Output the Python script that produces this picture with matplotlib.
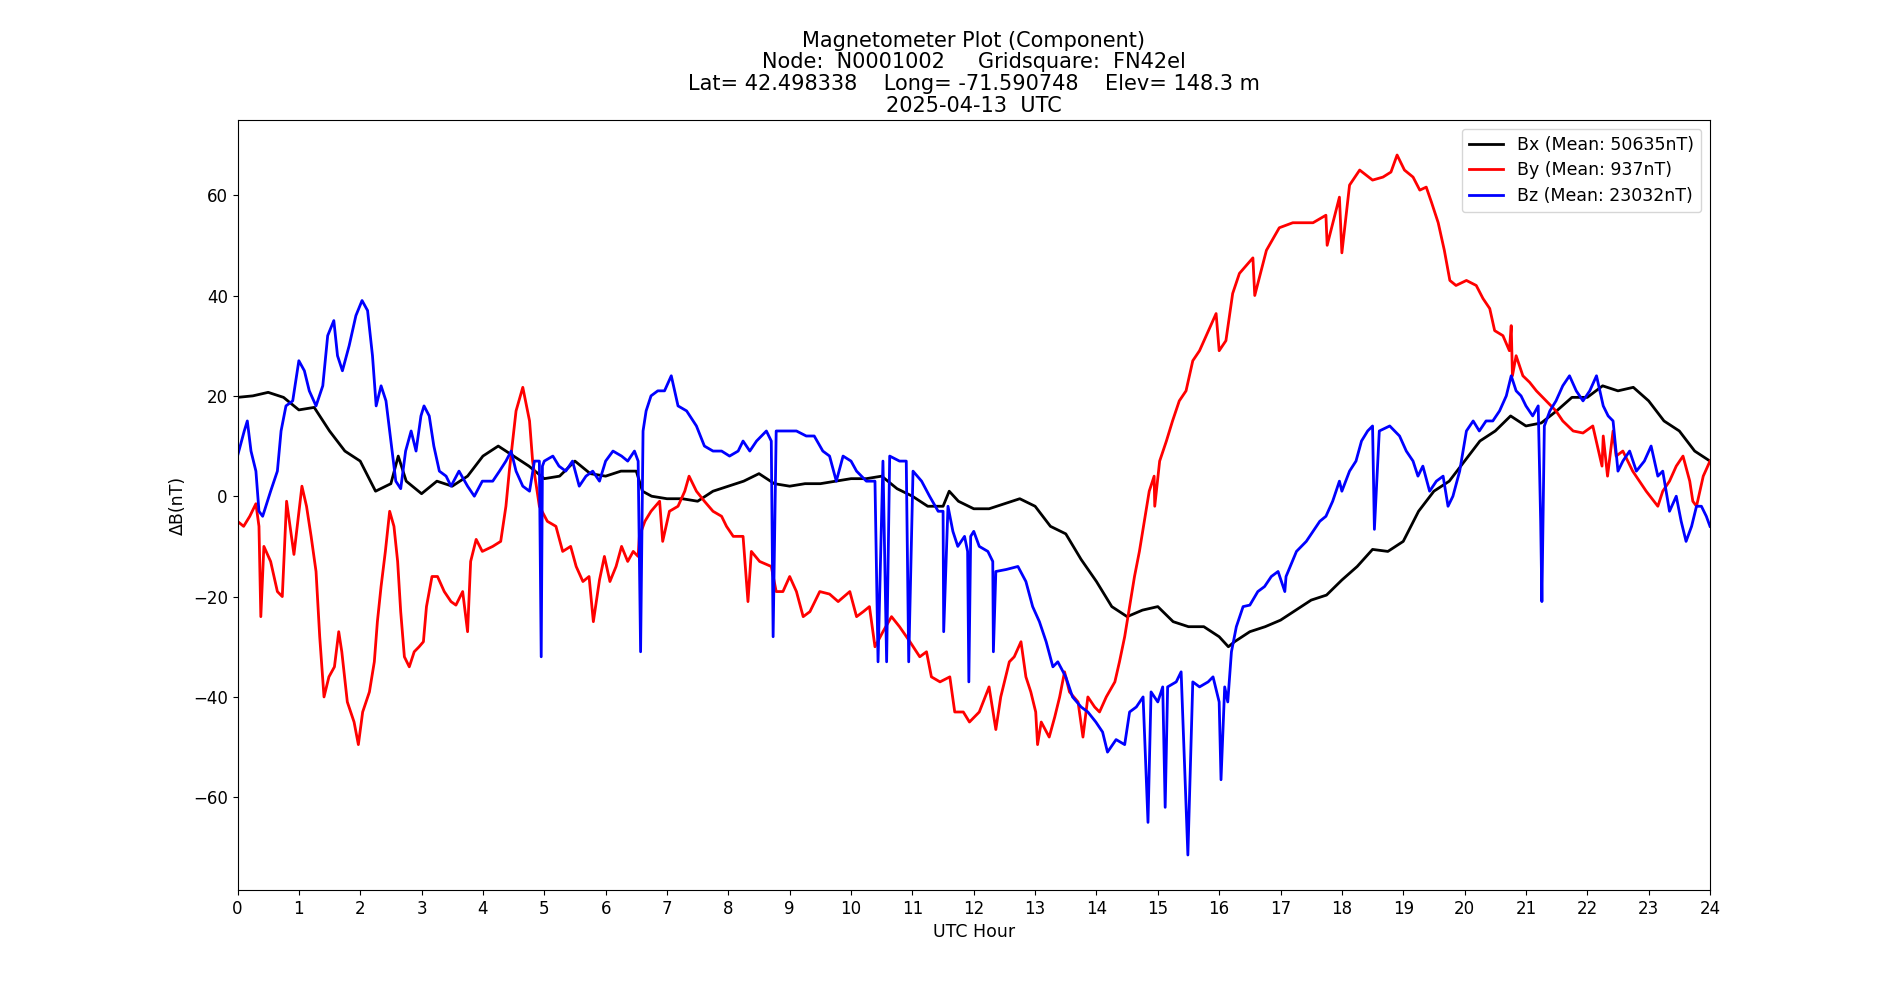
import numpy as np
import matplotlib
matplotlib.use("Agg")
import matplotlib.pyplot as plt

# Значения (час UTC, отклонение в нТл)
bx_hours = [0.0, 0.25, 0.5, 0.75, 1.0, 1.25, 1.5, 1.75, 2.0, 2.25, 2.5, 2.62, 2.75, 3.0,
            3.25, 3.5, 3.75, 4.0, 4.25, 4.5, 4.75, 5.0, 5.25, 5.5, 5.75, 6.0, 6.25,
            6.5, 6.6, 6.75, 7.0, 7.25, 7.5, 7.75, 8.0, 8.25, 8.5, 8.75, 9.0, 9.25,
            9.5, 9.75, 10.0, 10.25, 10.5, 10.75, 11.0, 11.25, 11.5, 11.6, 11.75,
            12.0, 12.25, 12.5, 12.75, 13.0, 13.25, 13.5, 13.75, 14.0, 14.25, 14.5,
            14.75, 15.0, 15.25, 15.5, 15.75, 16.0, 16.15, 16.25, 16.5, 16.75, 17.0,
            17.25, 17.5, 17.75, 18.0, 18.25, 18.5, 18.75, 19.0, 19.25, 19.5, 19.75,
            20.0, 20.25, 20.5, 20.75, 21.0, 21.25, 21.5, 21.75, 22.0, 22.25, 22.5,
            22.75, 23.0, 23.25, 23.5, 23.75, 24.0]
bx_values = [19.7, 20.0, 20.7, 19.7, 17.2, 17.7, 13.0, 9.0, 7.0, 1.0, 2.5, 8.0, 3.0, 0.5,
             3.0, 2.0, 4.0, 8.0, 10.0, 8.0, 6.0, 3.5, 4.0, 7.0, 4.5, 4.0, 5.0,
             5.0, 1.0, 0.0, -0.5, -0.5, -1.0, 1.0, 2.0, 3.0, 4.5, 2.5, 2.0, 2.5,
             2.5, 3.0, 3.5, 3.5, 4.0, 1.5, 0.0, -2.0, -2.0, 1.0, -1.0,
             -2.5, -2.5, -1.5, -0.5, -2.0, -6.0, -7.5, -12.6, -17.0, -22.0, -24.0,
             -22.7, -22.0, -25.0, -26.0, -26.0, -28.0, -30.0, -29.0, -27.0, -26.0, -24.7,
             -22.7, -20.7, -19.7, -16.7, -14.0, -10.6, -11.0, -9.0, -3.0, 1.0, 3.0,
             7.0, 11.0, 13.0, 16.0, 14.0, 14.6, 17.0, 19.7, 19.7, 22.0, 21.0,
             21.7, 19.0, 15.0, 13.0, 9.0, 7.0]

by_hours = [0.0, 0.1, 0.2, 0.3, 0.35, 0.38, 0.43, 0.54, 0.65, 0.73, 0.8, 0.92, 1.05,
            1.125, 1.2, 1.28, 1.34, 1.41, 1.49, 1.58, 1.65, 1.7, 1.79, 1.9, 1.97,
            2.04, 2.15, 2.23, 2.28, 2.34, 2.41, 2.48, 2.55, 2.61, 2.66, 2.72, 2.8,
            2.88, 2.96, 3.03, 3.08, 3.17, 3.26, 3.37, 3.48, 3.56, 3.67, 3.75, 3.8,
            3.89, 3.99, 4.16, 4.29, 4.375, 4.43, 4.54, 4.65, 4.76, 4.81, 4.92, 5.05,
            5.19, 5.3, 5.43, 5.52, 5.63, 5.73, 5.8, 5.9, 5.98,
            6.07, 6.17, 6.26, 6.36, 6.45, 6.53, 6.55, 6.64, 6.74, 6.88, 6.93, 7.04,
            7.18, 7.29, 7.36, 7.48, 7.61, 7.75, 7.89, 7.97, 8.08, 8.24, 8.32, 8.375,
            8.51, 8.7, 8.78, 8.89, 9.0, 9.11, 9.22, 9.33, 9.49, 9.65, 9.79, 9.98,
            10.09, 10.2, 10.3, 10.39, 10.52, 10.66, 10.79, 10.96, 11.12, 11.23,
            11.31, 11.45, 11.61, 11.69, 11.83, 11.93,
            12.09, 12.25, 12.36, 12.44, 12.58, 12.66, 12.77, 12.85, 12.93, 13.01,
            13.04, 13.1, 13.23, 13.32, 13.4, 13.48, 13.56, 13.7, 13.78, 13.86, 13.97,
            14.05, 14.16, 14.3, 14.375, 14.46, 14.54, 14.62, 14.7, 14.78, 14.86, 14.94,
            14.95, 15.03, 15.14, 15.24, 15.35, 15.46, 15.57, 15.68, 15.79, 15.95, 16.0,
            16.11, 16.22, 16.33, 16.55, 16.58, 16.77, 16.98, 17.2, 17.53, 17.74,
            17.76, 17.96, 18.0, 18.125, 18.29, 18.5, 18.67, 18.8, 18.9, 19.02, 19.16,
            19.27, 19.375, 19.46, 19.57, 19.67, 19.76, 19.86, 20.03, 20.19, 20.3,
            20.41, 20.49, 20.625, 20.73, 20.76, 20.78, 20.84, 20.95, 21.06, 21.17,
            21.33, 21.49, 21.6, 21.77, 21.93, 22.09, 22.24, 22.26, 22.33, 22.42,
            22.47, 22.58, 22.74, 22.96, 23.15, 23.23, 23.34, 23.45, 23.56, 23.67,
            23.72, 23.78, 23.89, 24.0]
by_values = [-5.0, -6.0, -4.0, -1.5, -6.0, -24.0, -10.0, -13.0, -19.0, -20.0, -1.0, -11.6, 2.0,
             -2.0, -8.0, -15.0, -28.0, -40.0, -36.0, -34.0, -27.0, -31.0, -41.0, -45.0, -49.5,
             -43.0, -39.0, -33.0, -25.0, -18.0, -11.0, -3.0, -6.0, -13.0, -23.0, -32.0, -34.0,
             -31.0, -30.0, -29.0, -22.0, -16.0, -16.0, -19.0, -21.0, -21.7, -19.0, -27.0, -13.0,
             -8.6, -11.0, -10.0, -9.0, -2.0, 5.0, 17.0, 21.7, 15.0, 7.0, -2.0, -5.0,
             -6.0, -11.0, -10.0, -14.0, -17.0, -16.0, -25.0, -16.7, -12.0,
             -17.0, -14.0, -10.0, -13.0, -11.0, -12.0, -8.0, -5.0, -3.0, -1.0, -9.0, -3.0,
             -2.0, 1.0, 4.0, 1.0, -1.0, -3.0, -4.0, -6.0, -8.0, -8.0, -21.0, -11.0,
             -13.0, -14.0, -19.0, -19.0, -16.0, -19.0, -24.0, -23.0, -19.0, -19.5, -21.0, -19.0,
             -24.0, -23.0, -22.0, -30.0, -27.0, -24.0, -26.0, -29.0, -32.0, -31.0,
             -36.0, -37.0, -36.0, -43.0, -43.0, -45.0,
             -43.0, -38.0, -46.5, -40.0, -33.0, -32.0, -29.0, -36.0, -39.0, -43.0,
             -49.5, -45.0, -48.0, -44.0, -40.0, -35.0, -39.0, -41.0, -48.0, -40.0, -42.0,
             -43.0, -40.0, -37.0, -33.0, -28.0, -22.0, -16.0, -11.0, -5.0, 1.0, 4.0,
             -2.0, 7.0, 11.0, 15.0, 19.0, 21.0, 27.0, 29.0, 32.0, 36.4, 29.0,
             31.0, 40.4, 44.4, 47.5, 40.0, 49.0, 53.5, 54.5, 54.5, 56.0,
             50.0, 59.6, 48.5, 62.0, 65.0, 63.0, 63.6, 64.6, 68.0, 65.0, 63.6,
             61.0, 61.6, 58.6, 54.5, 49.0, 43.0, 42.0, 43.0, 42.0, 39.4,
             37.4, 33.0, 32.0, 29.0, 34.0, 24.0, 28.0, 24.0, 22.7, 21.0,
             19.0, 17.0, 15.0, 13.0, 12.6, 14.0, 6.0, 12.0, 4.0, 13.0,
             8.0, 9.0, 5.0, 1.0, -2.0, 1.0, 3.0, 6.0, 8.0, 3.0,
             -1.0, -2.0, 4.0, 7.0]

bz_hours = [0.0, 0.11, 0.16, 0.22, 0.3, 0.35, 0.41, 0.54, 0.65, 0.71, 0.79, 0.9, 1.0,
            1.09, 1.17, 1.28, 1.39, 1.47, 1.57, 1.63, 1.71, 1.82, 1.93, 2.03, 2.12,
            2.2, 2.26, 2.34, 2.42, 2.5, 2.58, 2.66, 2.74, 2.83, 2.91, 2.99, 3.04,
            3.125, 3.2, 3.29, 3.4, 3.48, 3.61, 3.75, 3.86, 3.99, 4.16, 4.27, 4.375,
            4.46, 4.54, 4.65, 4.76, 4.84, 4.92, 4.95, 4.97, 5.0, 5.14, 5.24, 5.35,
            5.46, 5.57, 5.68, 5.79, 5.9, 6.0, 6.12, 6.26, 6.36, 6.47, 6.53, 6.57,
            6.61, 6.66, 6.74, 6.85, 6.96, 7.07, 7.18, 7.32, 7.48, 7.61, 7.75, 7.89,
            8.02, 8.16, 8.24, 8.35, 8.46, 8.62, 8.7, 8.73, 8.78, 8.95, 9.11, 9.27,
            9.4, 9.54, 9.65, 9.76, 9.87, 10.0, 10.09, 10.25, 10.39, 10.44, 10.52,
            10.58, 10.63, 10.79, 10.9, 10.94, 11.01, 11.15, 11.28, 11.42, 11.5,
            11.51, 11.58, 11.66, 11.74, 11.85, 11.9, 11.92, 11.95, 12.0, 12.09,
            12.23, 12.31, 12.32, 12.36, 12.53, 12.72, 12.85, 12.96, 13.07, 13.18,
            13.29, 13.37, 13.5, 13.61, 13.75, 13.86, 13.99, 14.1, 14.18, 14.32,
            14.46, 14.54, 14.65, 14.76, 14.84, 14.89, 15.0, 15.08, 15.12, 15.16,
            15.3, 15.38, 15.49, 15.57, 15.68, 15.82, 15.9, 16.0, 16.03, 16.09,
            16.14, 16.2, 16.28, 16.39, 16.5, 16.63, 16.74, 16.85, 16.96, 17.07,
            17.09, 17.26, 17.42, 17.53, 17.64, 17.74, 17.85, 17.96, 18.0, 18.125,
            18.23, 18.32, 18.42, 18.5, 18.53, 18.61, 18.78, 18.94, 19.05, 19.16,
            19.24, 19.32, 19.43, 19.54, 19.65, 19.73, 19.81, 19.92, 20.03, 20.14,
            20.24, 20.35, 20.46, 20.57, 20.68, 20.76, 20.84, 20.92, 21.0, 21.11,
            21.2, 21.24, 21.26, 21.3, 21.39, 21.49, 21.6, 21.71, 21.82, 21.93,
            22.04, 22.15, 22.26, 22.34, 22.42, 22.5, 22.58, 22.69, 22.8, 22.93,
            23.04, 23.15, 23.23, 23.34, 23.45, 23.53, 23.61, 23.7, 23.78, 23.86,
            23.94, 24.0]
bz_values = [8.0, 13.0, 15.0, 9.0, 5.0, -3.0, -4.0, 1.0, 5.0, 13.0, 18.0, 19.0, 27.0,
             25.0, 21.0, 18.0, 22.0, 32.0, 35.0, 28.0, 25.0, 30.0, 36.0, 39.0, 37.0,
             28.0, 18.0, 22.0, 19.0, 11.0, 3.0, 1.5, 9.0, 13.0, 9.0, 16.0, 18.0,
             16.0, 10.0, 5.0, 4.0, 2.0, 5.0, 2.0, 0.0, 3.0, 3.0, 5.0, 7.0,
             9.0, 5.0, 2.0, 1.0, 7.0, 7.0, -32.0, 6.0, 7.0, 8.0, 6.0, 5.0,
             7.0, 2.0, 4.0, 5.0, 3.0, 7.0, 9.0, 8.0, 7.0, 9.0, 7.0, -31.0,
             13.0, 17.0, 20.0, 21.0, 21.0, 24.0, 18.0, 17.0, 14.0, 10.0, 9.0, 9.0,
             8.0, 9.0, 11.0, 9.0, 11.0, 13.0, 11.0, -28.0, 13.0, 13.0, 13.0, 12.0,
             12.0, 9.0, 8.0, 3.0, 8.0, 7.0, 5.0, 3.0, 3.0, -33.0, 7.0,
             -33.0, 8.0, 7.0, 7.0, -33.0, 5.0, 3.0, 0.0, -3.0, -3.0,
             -27.0, -2.0, -7.0, -10.0, -8.0, -11.0, -37.0, -8.0, -7.0, -10.0,
             -11.0, -13.0, -31.0, -15.0, -14.6, -14.0, -17.0, -22.0, -25.0, -29.0,
             -34.0, -33.0, -36.0, -40.0, -42.0, -43.0, -45.0, -47.0, -51.0, -48.5,
             -49.5, -43.0, -42.0, -40.0, -65.0, -39.0, -41.0, -38.0, -62.0, -38.0,
             -37.0, -35.0, -71.5, -37.0, -38.0, -37.0, -36.0, -41.0, -56.5, -38.0,
             -41.0, -31.0, -26.0, -22.0, -21.7, -19.0, -18.0, -16.0, -15.0, -19.0,
             -16.0, -11.0, -9.0, -7.0, -5.0, -4.0, -1.0, 3.0, 1.0, 5.0,
             7.0, 11.0, 13.0, 14.0, -6.6, 13.0, 14.0, 12.0, 9.0, 7.0,
             4.0, 6.0, 1.0, 3.0, 4.0, -2.0, 0.0, 5.0, 13.0, 15.0,
             13.0, 15.0, 15.0, 17.0, 20.0, 24.0, 21.0, 20.0, 18.0, 16.0,
             18.0, -5.0, -21.0, 14.0, 17.0, 19.0, 22.0, 24.0, 21.0, 19.0,
             21.0, 24.0, 18.0, 16.0, 15.0, 5.0, 7.0, 9.0, 5.0, 7.0,
             10.0, 4.0, 5.0, -3.0, 0.0, -5.0, -9.0, -6.0, -2.0, -2.0,
             -4.0, -6.0]

bx_mean = 50635
by_mean = 937
bz_mean = 23032

title_lines = ["Magnetometer Plot (Component)",
               "Node:  N0001002     Gridsquare:  FN42el",
               "Lat= 42.498338    Long= -71.590748    Elev= 148.3 m",
               "2025-04-13  UTC"]

fig = plt.figure(figsize=(19, 10), dpi=100)
ax = fig.add_subplot(111)

ax.plot(bx_hours, bx_values, color='black', linewidth=2.0, label=f"Bx (Mean: {bx_mean}nT)")
ax.plot(by_hours, by_values, color='red', linewidth=2.0, label=f"By (Mean: {by_mean}nT)")
ax.plot(bz_hours, bz_values, color='blue', linewidth=2.0, label=f"Bz (Mean: {bz_mean}nT)")

ax.set_xlim(0, 24)
ax.set_xticks(range(0, 25))
ax.tick_params(labelsize=12)
ax.set_xlabel("UTC Hour", fontsize=12.5)
ax.set_ylabel("ΔB(nT)", fontsize=12.5)
ax.set_title("\n".join(title_lines), fontsize=15, linespacing=1.1)
ax.legend(loc='upper right', fontsize=12.5, labelspacing=0.45)

fig.savefig("out.png", dpi=100)
